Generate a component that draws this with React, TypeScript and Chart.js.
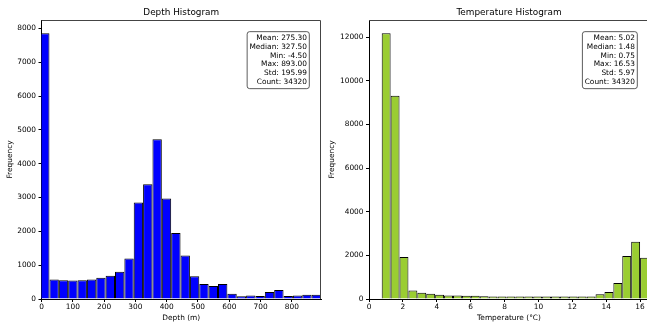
import React, { useEffect, useRef } from "react";
import { Chart, registerables } from "chart.js";

Chart.register(...registerables);

const FONT = '"DejaVu Sans", "Liberation Sans", sans-serif';

// ---------- Depth histogram data ----------
const depthBinMin = -4.5;
const depthBinMax = 893.0;
const depthCounts = [
  7855, 575, 555, 550, 555, 575, 625, 685, 805, 1195,
  2850, 3390, 4725, 2970, 1950, 1285, 675, 440, 385, 440,
  155, 80, 105, 85, 205, 265, 85, 105, 125, 125,
];
const depthXTicks = [0, 100, 200, 300, 400, 500, 600, 700, 800];
const depthXTickLabels = ["0", "100", "200", "300", "400", "500", "600", "700", "800"];
const depthYTicks = [0, 1000, 2000, 3000, 4000, 5000, 6000, 7000, 8000];
const depthYTickLabels = ["0", "1000", "2000", "3000", "4000", "5000", "6000", "7000", "8000"];
const depthStatLines = [
  "Mean: 275.30",
  "Median: 327.50",
  "Min: -4.50",
  "Max: 893.00",
  "Std: 195.99",
  "Count: 34320",
];

// ---------- Temperature histogram data ----------
const tempBinMin = 0.75;
const tempBinMax = 16.53;
const tempCounts = [
  12185, 9325, 1925, 395, 290, 245, 200, 155, 155, 150,
  150, 125, 120, 120, 120, 120, 120, 120, 120, 120,
  120, 120, 120, 120, 215, 320, 735, 1970, 2625, 1895,
];
const tempXTicks = [0, 2, 4, 6, 8, 10, 12, 14, 16];
const tempXTickLabels = ["0", "2", "4", "6", "8", "10", "12", "14", "16"];
const tempYTicks = [0, 2000, 4000, 6000, 8000, 10000, 12000];
const tempYTickLabels = ["0", "2000", "4000", "6000", "8000", "10000", "12000"];
const tempStatLines = [
  "Mean: 5.02",
  "Median: 1.48",
  "Min: 0.75",
  "Max: 16.53",
  "Std: 5.97",
  "Count: 34320",
];

function histogramPoints(min: number, max: number, counts: number[]) {
  const w = (max - min) / counts.length;
  return counts.map((c, i) => ({ x: min + (i + 0.5) * w, y: c }));
}

const framePlugin = {
  id: "frame",
  afterDatasetsDraw(chart: any) {
    const { ctx, chartArea: a } = chart;
    ctx.save();
    ctx.strokeStyle = "#444";
    ctx.lineWidth = 1;
    ctx.beginPath();
    const t = Math.round(a.top) + 0.5;
    const r = Math.round(a.right) - 0.5;
    ctx.moveTo(a.left, t);
    ctx.lineTo(r, t);
    ctx.lineTo(r, a.bottom);
    ctx.stroke();
    ctx.restore();
  },
};

const statsPlugin = {
  id: "statsBox",
  afterDraw(chart: any, _args: any, opts: any) {
    const lines: string[] = opts.lines || [];
    if (!lines.length) return;
    const { ctx, chartArea: a } = chart;
    const fs = 7.4;
    const lh = 8.7;
    const pad = 2.3;
    ctx.save();
    ctx.font = `${fs}px ${FONT}`;
    let w = 0;
    lines.forEach((l) => (w = Math.max(w, ctx.measureText(l).width)));
    const xr = a.left + 0.95 * (a.right - a.left);
    const yt = a.top + 0.05 * (a.bottom - a.top);
    const bx = xr - w - pad;
    const by = yt - pad;
    const bw = w + 2 * pad;
    const bh = (lines.length - 1) * lh + fs * 1.0 + 2 * pad + 1.5;
    ctx.beginPath();
    (ctx as any).roundRect(bx, by, bw, bh, 2.5);
    ctx.fillStyle = "rgba(255,255,255,0.9)";
    ctx.fill();
    ctx.strokeStyle = "#333";
    ctx.lineWidth = 0.8;
    ctx.stroke();
    ctx.fillStyle = "#000";
    ctx.textAlign = "right";
    ctx.textBaseline = "alphabetic";
    lines.forEach((l, i) => {
      ctx.fillText(l, xr, yt + fs * 0.78 + 0.5 + i * lh);
    });
    ctx.restore();
  },
};

type HistParams = {
  title: string;
  xTitle: string;
  color: string;
  binMin: number;
  binMax: number;
  counts: number[];
  xMin: number;
  xMax: number;
  yMax: number;
  xTicks: number[];
  xTickLabels: string[];
  yTicks: number[];
  yTickLabels: string[];
  statLines: string[];
  yAxisWidth: number;
  padRight: number;
  yTitlePad: number;
};

function buildConfig(p: HistParams): any {
  const tickFont = { family: FONT, size: 7.4 };
  const gridCfg = {
    display: true,
    drawOnChartArea: false,
    drawTicks: true,
    tickLength: 3,
    tickColor: "#000",
    tickWidth: 1,
    offset: false,
  };
  const borderCfg = { display: true, color: "#000", width: 1 };
  return {
    type: "bar",
    data: {
      datasets: [
        {
          data: histogramPoints(p.binMin, p.binMax, p.counts),
          backgroundColor: p.color,
          borderColor: "#000",
          borderWidth: 1,
          barPercentage: 1,
          categoryPercentage: 1,
          clip: 0,
          inflateAmount: 0,
        },
      ],
    },
    options: {
      animation: false,
      responsive: false,
      maintainAspectRatio: false,
      devicePixelRatio: 1,
      events: [],
      layout: { padding: { left: 0, right: p.padRight, top: 0, bottom: 0 } },
      plugins: {
        legend: { display: false },
        tooltip: { enabled: false },
        title: {
          display: true,
          text: p.title,
          fullSize: false,
          color: "#000",
          font: { family: FONT, size: 8.9, weight: "normal", lineHeight: 1.2 },
          padding: { top: 7.4, bottom: 20 - 7.4 - 8.9 * 1.2 },
        },
        statsBox: { lines: p.statLines },
      },
      scales: {
        x: {
          type: "linear",
          min: p.xMin,
          max: p.xMax,
          offset: false,
          afterFit: (s: any) => {
            s.height = 28;
          },
          afterBuildTicks: (s: any) => {
            s.ticks = p.xTicks.map((v) => ({ value: v }));
          },
          ticks: {
            callback: (_v: any, i: number) => p.xTickLabels[i],
            color: "#000",
            font: tickFont,
            padding: 1,
            maxRotation: 0,
            autoSkip: false,
          },
          grid: gridCfg,
          border: borderCfg,
          title: {
            display: true,
            text: p.xTitle,
            color: "#000",
            font: { family: FONT, size: 7.4, lineHeight: 1.2 },
            padding: { top: 0, bottom: 4.8 },
          },
        },
        y: {
          type: "linear",
          min: 0,
          max: p.yMax,
          afterFit: (s: any) => {
            s.width = p.yAxisWidth;
          },
          afterBuildTicks: (s: any) => {
            s.ticks = p.yTicks.map((v) => ({ value: v }));
          },
          ticks: {
            callback: (_v: any, i: number) => p.yTickLabels[i],
            color: "#000",
            font: tickFont,
            padding: 2.5,
            autoSkip: false,
          },
          grid: gridCfg,
          border: borderCfg,
          title: {
            display: true,
            text: "Frequency",
            color: "#000",
            font: { family: FONT, size: 7.4, lineHeight: 1.2 },
            padding: { top: p.yTitlePad, bottom: 0 },
          },
        },
      },
    },
    plugins: [framePlugin, statsPlugin],
  };
}

function HistChart({ params, left, width }: { params: HistParams; left: number; width: number }) {
  const ref = useRef<HTMLCanvasElement | null>(null);
  useEffect(() => {
    if (!ref.current) return;
    const chart = new Chart(ref.current, buildConfig(params));
    return () => chart.destroy();
  }, [params]);
  return (
    <canvas
      ref={ref}
      width={width}
      height={327}
      style={{ position: "absolute", left, top: 0, width, height: 327 }}
    />
  );
}

const depthParams: HistParams = {
  title: "Depth Histogram",
  xTitle: "Depth (m)",
  color: "#0000ff",
  binMin: depthBinMin,
  binMax: depthBinMax,
  counts: depthCounts,
  xMin: 0,
  xMax: depthBinMax,
  yMax: Math.max(...depthCounts) * 1.05,
  xTicks: depthXTicks,
  xTickLabels: depthXTickLabels,
  yTicks: depthYTicks,
  yTickLabels: depthYTickLabels,
  statLines: depthStatLines,
  yAxisWidth: 41.5,
  padRight: 9,
  yTitlePad: 5.4,
};

const tempParams: HistParams = {
  title: "Temperature Histogram",
  xTitle: "Temperature (°C)",
  color: "#9acd32",
  binMin: tempBinMin,
  binMax: tempBinMax,
  counts: tempCounts,
  xMin: 0,
  xMax: tempBinMax,
  yMax: Math.max(...tempCounts) * 1.05,
  xTicks: tempXTicks,
  xTickLabels: tempXTickLabels,
  yTicks: tempYTicks,
  yTickLabels: tempYTickLabels,
  statLines: tempStatLines,
  yAxisWidth: 49,
  padRight: 11,
  yTitlePad: 7.4,
};

export default function App() {
  return (
    <div
      style={{
        position: "fixed",
        left: 0,
        top: 0,
        width: 647,
        height: 327,
        overflow: "hidden",
        background: "#fff",
      }}
    >
      <HistChart params={depthParams} left={0} width={330} />
      <HistChart params={tempParams} left={320} width={340} />
    </div>
  );
}
